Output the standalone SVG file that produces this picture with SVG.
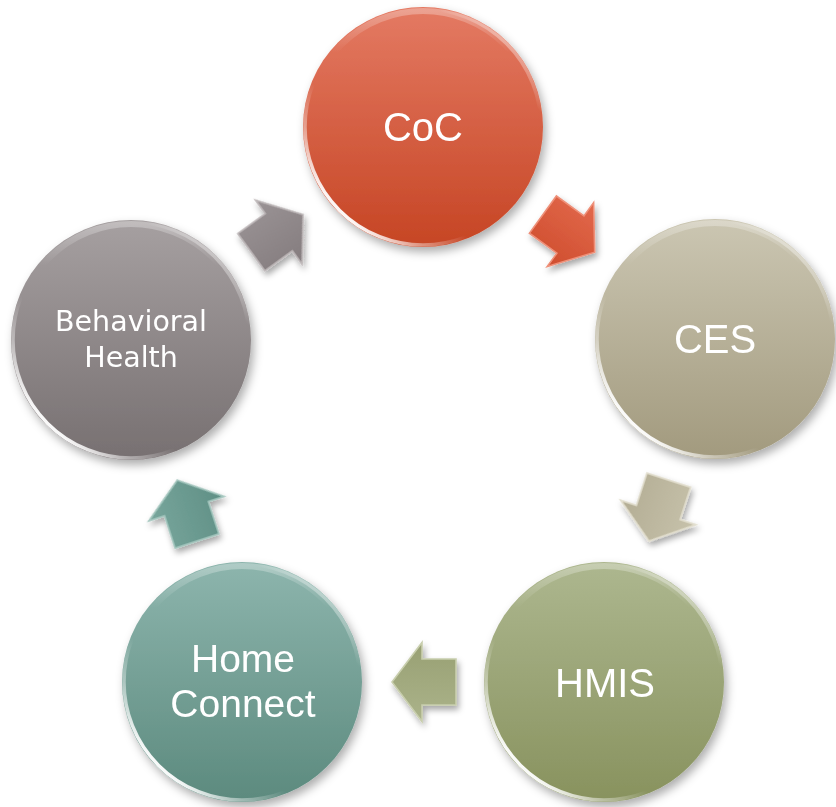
<svg xmlns="http://www.w3.org/2000/svg" width="836" height="807" viewBox="0 0 836 807">
  <defs>
    <style>
      .label { fill: #ffffff; font-family: "Liberation Sans", Arial, sans-serif; font-size: 40px; text-anchor: middle; }
      .label-sm { fill: #ffffff; font-family: "DejaVu Sans", "Liberation Sans", sans-serif; font-size: 28px; text-anchor: middle; }
      .rim { fill: none; stroke: url(#rimLight); stroke-width: 3.5; }
      .rim-top { fill: none; stroke: url(#rimTop); stroke-width: 6; }
      .arrow-edge { stroke-width: 1.6; stroke-linejoin: miter; }
    </style>

    <!-- soft drop shadow used by discs and arrows -->
    <filter id="shadow" x="-20%" y="-20%" width="150%" height="150%">
      <feDropShadow dx="3" dy="5" stdDeviation="5" flood-color="#000000" flood-opacity="0.32"/>
    </filter>
    <filter id="shadowSm" x="-30%" y="-30%" width="170%" height="170%">
      <feDropShadow dx="2" dy="4" stdDeviation="3" flood-color="#000000" flood-opacity="0.35"/>
    </filter>

    <!-- disc fills: lighter on top, deeper at the bottom -->
    <linearGradient id="gCoc" x1="0" y1="0" x2="0" y2="1">
      <stop offset="0" stop-color="#e47a63"/>
      <stop offset="1" stop-color="#c64524"/>
    </linearGradient>
    <linearGradient id="gCes" x1="0" y1="0" x2="0" y2="1">
      <stop offset="0" stop-color="#cbc6b2"/>
      <stop offset="1" stop-color="#a29a7e"/>
    </linearGradient>
    <linearGradient id="gHmis" x1="0" y1="0" x2="0" y2="1">
      <stop offset="0" stop-color="#adb78f"/>
      <stop offset="1" stop-color="#88925e"/>
    </linearGradient>
    <linearGradient id="gHome" x1="0" y1="0" x2="0" y2="1">
      <stop offset="0" stop-color="#8db5ad"/>
      <stop offset="1" stop-color="#5c8a7e"/>
    </linearGradient>
    <linearGradient id="gBh" x1="0" y1="0" x2="0" y2="1">
      <stop offset="0" stop-color="#a6a0a1"/>
      <stop offset="1" stop-color="#777071"/>
    </linearGradient>

    <!-- glossy rim: bright on the lower-left edge, faint on the upper right -->
    <linearGradient id="rimLight" x1="0" y1="1" x2="1" y2="0">
      <stop offset="0.15" stop-color="#ffffff" stop-opacity="0.95"/>
      <stop offset="0.24" stop-color="#ffffff" stop-opacity="0.45"/>
      <stop offset="0.36" stop-color="#ffffff" stop-opacity="0"/>
      <stop offset="0.78" stop-color="#ffffff" stop-opacity="0"/>
      <stop offset="0.86" stop-color="#ffffff" stop-opacity="0.4"/>
    </linearGradient>
    <linearGradient id="rimTop" x1="0" y1="0" x2="0" y2="1">
      <stop offset="0" stop-color="#ffffff" stop-opacity="0.3"/>
      <stop offset="0.18" stop-color="#ffffff" stop-opacity="0"/>
      <stop offset="1" stop-color="#ffffff" stop-opacity="0"/>
    </linearGradient>

    <!-- arrow fills -->
    <linearGradient id="aCoc" x1="0" y1="0" x2="0" y2="1">
      <stop offset="0" stop-color="#e2694c"/>
      <stop offset="1" stop-color="#cf4d2e"/>
    </linearGradient>
    <linearGradient id="aCes" x1="0" y1="0" x2="0" y2="1">
      <stop offset="0" stop-color="#c7c2ab"/>
      <stop offset="1" stop-color="#b3ad94"/>
    </linearGradient>
    <linearGradient id="aHmis" x1="0" y1="0" x2="0" y2="1">
      <stop offset="0" stop-color="#abb38a"/>
      <stop offset="1" stop-color="#98a073"/>
    </linearGradient>
    <linearGradient id="aHome" x1="0" y1="0" x2="0" y2="1">
      <stop offset="0" stop-color="#78a69c"/>
      <stop offset="1" stop-color="#5f8f85"/>
    </linearGradient>
    <linearGradient id="aBh" x1="0" y1="0" x2="0" y2="1">
      <stop offset="0" stop-color="#9a9395"/>
      <stop offset="1" stop-color="#847c7e"/>
    </linearGradient>

    <!-- block arrow pointing along +x, centred on the origin -->
    <polygon id="blockArrow" points="-32,-23 2,-23 2,-39.5 32,0 2,39.5 2,23 -32,23"/>
  </defs>

  <rect width="836" height="807" fill="#ffffff"/>

  <!-- connectors: block arrows between neighbouring discs, clockwise -->
  <g id="connectors">
    <g filter="url(#shadowSm)">
      <use href="#blockArrow" transform="translate(568.8,233.4) rotate(36)" fill="url(#aCoc)" stroke="#ee9079" class="arrow-edge"/>
      <use href="#blockArrow" transform="translate(658.9,510.6) rotate(108)" fill="url(#aCes)" stroke="#e2dece" class="arrow-edge"/>
      <use href="#blockArrow" transform="translate(424,682) rotate(180)" fill="url(#aHmis)" stroke="#c8cead" class="arrow-edge"/>
      <use href="#blockArrow" transform="translate(187.1,510.6) rotate(252)" fill="url(#aHome)" stroke="#a4c6be" class="arrow-edge"/>
      <use href="#blockArrow" transform="translate(277.2,233.4) rotate(-36)" fill="url(#aBh)" stroke="#bdb7b8" class="arrow-edge"/>
    </g>
  </g>

  <g id="node-coc" filter="url(#shadow)">
    <circle cx="423" cy="127" r="120" fill="url(#gCoc)"/>
    <circle cx="423" cy="127" r="118" class="rim"/>
    <circle cx="423" cy="127" r="116" class="rim-top"/>
    <text x="423" y="141" class="label">CoC</text>
  </g>

  <g id="node-ces" filter="url(#shadow)">
    <circle cx="715" cy="339" r="120" fill="url(#gCes)"/>
    <circle cx="715" cy="339" r="118" class="rim"/>
    <circle cx="715" cy="339" r="116" class="rim-top"/>
    <text x="715" y="353" class="label">CES</text>
  </g>

  <g id="node-hmis" filter="url(#shadow)">
    <circle cx="604" cy="682" r="120" fill="url(#gHmis)"/>
    <circle cx="604" cy="682" r="118" class="rim"/>
    <circle cx="604" cy="682" r="116" class="rim-top"/>
    <text x="605" y="697" class="label">HMIS</text>
  </g>

  <g id="node-home-connect" filter="url(#shadow)">
    <circle cx="242" cy="682" r="120" fill="url(#gHome)"/>
    <circle cx="242" cy="682" r="118" class="rim"/>
    <circle cx="242" cy="682" r="116" class="rim-top"/>
    <text x="243" y="672" class="label" style="font-size:39px">Home</text>
    <text x="243" y="717" class="label" style="font-size:39px">Connect</text>
  </g>

  <g id="node-behavioral-health" filter="url(#shadow)">
    <circle cx="131" cy="340" r="120" fill="url(#gBh)"/>
    <circle cx="131" cy="340" r="118" class="rim"/>
    <circle cx="131" cy="340" r="116" class="rim-top"/>
    <text x="131" y="331" class="label-sm" style="font-size:28.5px">Behavioral</text>
    <text x="131" y="367" class="label-sm" style="font-size:28.5px">Health</text>
  </g>
</svg>
